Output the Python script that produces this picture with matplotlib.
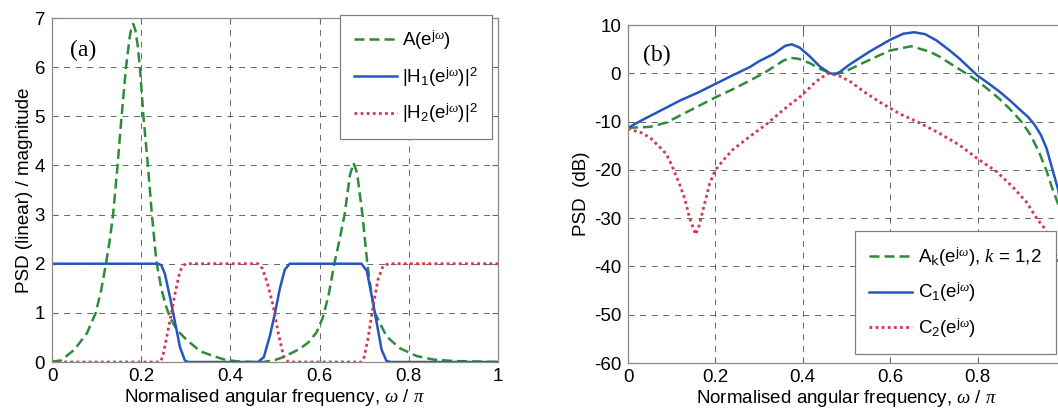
import matplotlib
matplotlib.use("Agg")
import matplotlib.pyplot as plt

plt.rcParams['font.family'] = ['Liberation Sans', 'DejaVu Sans']
plt.rcParams['mathtext.fontset'] = 'custom'
plt.rcParams['mathtext.rm'] = 'Liberation Sans'
plt.rcParams['mathtext.it'] = 'Liberation Serif:italic'
plt.rcParams['mathtext.bf'] = 'Liberation Sans:bold'
plt.rcParams['axes.unicode_minus'] = False

# ---------------- data: panel (a) ----------------
a_x = [0.0, 0.02, 0.05, 0.078, 0.098, 0.11, 0.121, 0.129, 0.137, 0.147, 0.156, 0.166, 0.174,
       0.178, 0.182, 0.187, 0.192, 0.197, 0.205, 0.215, 0.224, 0.234, 0.245, 0.255, 0.265,
       0.28, 0.302, 0.332, 0.362, 0.39, 0.42, 0.45, 0.474, 0.50, 0.519, 0.556, 0.575, 0.593,
       0.607, 0.62, 0.633, 0.645, 0.656, 0.668, 0.676, 0.684, 0.696, 0.707, 0.716, 0.724,
       0.75, 0.78, 0.818, 0.855, 0.9, 1.0]
a_y = [0.01, 0.03, 0.25, 0.58, 1.0, 1.45, 2.0, 2.45, 3.0, 4.0, 5.0, 6.0, 6.6,
       6.8, 6.88, 6.75, 6.45, 6.0, 5.0, 4.0, 3.0, 2.05, 1.5, 1.15, 0.9,
       0.65, 0.45, 0.22, 0.12, 0.04, 0.01, 0.0, 0.0, 0.04, 0.1, 0.27, 0.4, 0.6,
       0.9, 1.35, 2.0, 2.5, 3.0, 3.8, 4.05, 3.85, 3.0, 2.0, 1.4, 1.0,
       0.52, 0.28, 0.12, 0.05, 0.02, 0.0]

h1_x = [0.0, 0.238, 0.245, 0.253, 0.265, 0.276, 0.287, 0.298, 0.305, 0.462, 0.475, 0.489,
        0.5, 0.511, 0.522, 0.533, 0.694, 0.706, 0.717, 0.728, 0.739, 0.75, 0.76, 1.0]
h1_y = [2.0, 2.0, 1.97, 1.8, 1.3, 0.8, 0.3, 0.03, 0.0, 0.0, 0.1, 0.55,
        1.0, 1.5, 1.88, 2.0, 2.0, 1.85, 1.34, 0.8, 0.25, 0.02, 0.0, 0.0]

h2_x = [0.0, 0.242, 0.248, 0.256, 0.265, 0.276, 0.287, 0.296, 0.305, 0.462, 0.472, 0.483,
        0.496, 0.507, 0.519, 0.53, 0.694, 0.70, 0.709, 0.72, 0.731, 0.742, 0.755, 1.0]
h2_y = [0.0, 0.0, 0.1, 0.45, 0.87, 1.4, 1.85, 1.98, 2.0, 2.0, 1.9, 1.6,
        1.14, 0.6, 0.12, 0.0, 0.0, 0.1, 0.5, 1.14, 1.68, 1.95, 2.0, 2.0]

# ---------------- data: panel (b) ----------------
c1_x = [0.0, 0.03, 0.06, 0.088, 0.12, 0.16, 0.2, 0.24, 0.279, 0.30, 0.333, 0.36, 0.375,
        0.393, 0.416, 0.439, 0.462, 0.475, 0.485, 0.507, 0.553, 0.599, 0.63, 0.655, 0.68,
        0.706, 0.735, 0.759, 0.78, 0.8, 0.825, 0.85, 0.875, 0.9, 0.915, 0.93, 0.945, 0.958,
        0.97, 0.984, 1.0]
c1_y = [-11.3, -9.8, -8.4, -7.1, -5.6, -4.0, -2.2, -0.4, 1.3, 2.5, 4.0, 5.7, 6.0,
        5.3, 3.5, 1.4, 0.0, -0.2, 0.3, 1.8, 4.5, 6.9, 8.2, 8.5, 8.1,
        6.8, 4.8, 3.0, 1.2, -0.5, -2.1, -3.8, -5.7, -7.8, -9.0, -10.6, -12.8, -15.6,
        -19.5, -24.0, -32.0]

ak_x = [0.0, 0.05, 0.088, 0.133, 0.2, 0.24, 0.279, 0.31, 0.333, 0.355, 0.372, 0.39, 0.416,
        0.44, 0.458, 0.477, 0.495, 0.507, 0.553, 0.599, 0.648, 0.69, 0.714, 0.736, 0.759,
        0.78, 0.8, 0.825, 0.85, 0.875, 0.9, 0.92, 0.94, 0.957, 0.97, 0.984, 1.0]
ak_y = [-11.3, -11.1, -10.2, -8.1, -5.0, -3.3, -1.5, 0.0, 1.3, 2.6, 3.2, 3.0, 2.1,
        0.9, 0.2, -0.1, 0.3, 0.8, 2.8, 4.7, 5.6, 4.5, 3.4, 2.1, 0.8,
        -0.4, -1.6, -3.4, -5.3, -7.5, -10.0, -12.6, -16.2, -20.0, -23.6, -27.0, -35.0]

c2_x = [0.0, 0.03, 0.05, 0.075, 0.088, 0.1, 0.118, 0.13, 0.141, 0.155, 0.163, 0.171, 0.187,
        0.2, 0.22, 0.24, 0.28, 0.316, 0.35, 0.37, 0.392, 0.41, 0.43, 0.458, 0.485, 0.51,
        0.538, 0.575, 0.622, 0.668, 0.714, 0.759, 0.8, 0.844, 0.881, 0.912, 0.935, 0.954,
        0.97, 0.984, 1.0]
c2_y = [-11.5, -12.3, -13.3, -15.5, -16.8, -19.0, -23.0, -26.0, -30.0, -33.4, -31.5, -28.5, -22.8,
        -20.0, -17.8, -15.8, -13.0, -10.6, -8.0, -6.5, -5.0, -3.5, -1.7, 0.0, -0.6, -1.8,
        -3.7, -5.9, -8.4, -10.3, -12.5, -14.9, -17.7, -20.4, -23.6, -26.7, -30.0, -32.2,
        -35.5, -39.0, -44.0]

xticks = [0, 0.2, 0.4, 0.6, 0.8, 1]
a_xticklabels = ['0', '0.2', '0.4', '0.6', '0.8', '1']
b_xticklabels = ['0', '0.2', '0.4', '0.6', '0.8', '']
a_yticks = [0, 1, 2, 3, 4, 5, 6, 7]
b_yticks = [10, 0, -10, -20, -30, -40, -50, -60]

GREEN = '#2e8b3a'
BLUE = '#2456c2'
RED = '#d4364e'
FS = 13.5

W, H = 1058, 411
fig = plt.figure(figsize=(W / 100, H / 100), dpi=100)
axa = fig.add_axes([52 / W, 1 - 362 / H, 446 / W, 344 / H])
axb = fig.add_axes([628 / W, 1 - 363 / H, 437 / W, 338 / H])


def style(ax, xlabels):
    ax.grid(True, color='0.25', linestyle=(0, (6, 6)), linewidth=0.7, alpha=0.8)
    for s in ax.spines.values():
        s.set_color('0.55')
        s.set_linewidth(0.9)
    ax.tick_params(direction='in', top=True, right=True, labelsize=FS,
                   length=4, color='0.4')
    ax.tick_params(axis='x', pad=4)
    ax.tick_params(axis='y', pad=5)
    ax.set_xticks(xticks)
    ax.set_xticklabels(xlabels)
    ax.set_xlim(0, 1)
    ax.set_xlabel(r'Normalised angular frequency, $\omega$ / $\pi$', fontsize=FS, labelpad=1.5)


style(axa, a_xticklabels)
style(axb, b_xticklabels)

axa.plot(a_x, a_y, color=GREEN, lw=1.8, dashes=(4, 2), label=r'A(e$^{\mathrm{j}\omega}$)')
axa.plot(h1_x, h1_y, color=BLUE, lw=1.8, label=r'|H$_1$(e$^{\mathrm{j}\omega}$)|$^2$')
axa.plot(h2_x, h2_y, color=RED, lw=2.0, linestyle=(0, (1, 1.2)),
         label=r'|H$_2$(e$^{\mathrm{j}\omega}$)|$^2$')
axa.set_ylim(0, 7)
axa.set_yticks(a_yticks)
axa.set_ylabel('PSD (linear) / magnitude', fontsize=FS, labelpad=1)
axa.text(0.04, 0.905, '(a)', transform=axa.transAxes, fontsize=17,
         family='Liberation Serif', va='center', ha='left')
lga = axa.legend(loc='upper right', bbox_to_anchor=(0.987, 1.01), borderaxespad=0,
                 fontsize=FS, handlelength=2.3, labelspacing=0.7, handletextpad=0.3,
                 fancybox=False, framealpha=1, edgecolor='0.5', borderpad=0.75)
lga.get_frame().set_linewidth(0.9)

axb.plot(ak_x, ak_y, color=GREEN, lw=1.8, dashes=(4, 2),
         label=r'A$_{\mathsf{k}}$(e$^{\mathrm{j}\omega}$), $k$ = 1,2')
axb.plot(c1_x, c1_y, color=BLUE, lw=1.8, label=r'C$_1$(e$^{\mathrm{j}\omega}$)')
axb.plot(c2_x, c2_y, color=RED, lw=2.0, linestyle=(0, (1, 1.2)),
         label=r'C$_2$(e$^{\mathrm{j}\omega}$)')
axb.set_ylim(-60, 10)
axb.set_yticks(b_yticks)
axb.set_yticklabels([str(v) for v in b_yticks])
axb.set_ylabel('PSD  (dB)', fontsize=FS, labelpad=3)
axb.text(0.034, 0.91, '(b)', transform=axb.transAxes, fontsize=17,
         family='Liberation Serif', va='center', ha='left')
lgb = axb.legend(loc='lower right', bbox_to_anchor=(0.979, 0.027), borderaxespad=0,
                 fontsize=FS, handlelength=2.3, labelspacing=0.65, handletextpad=0.3,
                 fancybox=False, framealpha=1, edgecolor='0.5', borderpad=0.75)
lgb.get_frame().set_linewidth(0.9)

fig.savefig('out.png', dpi=100)
